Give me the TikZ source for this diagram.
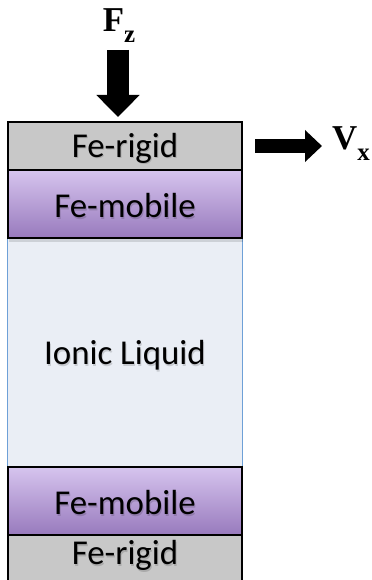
\documentclass[tikz,border=0pt]{standalone}
\usepackage{fontspec}
\setmainfont{Carlito}
\newfontfamily\tnr{Liberation Serif}
\usetikzlibrary{arrows.meta,calc}
\definecolor{rigid}{RGB}{200,200,200}
\definecolor{mobtop}{RGB}{214,196,238}
\definecolor{mobbot}{RGB}{152,122,189}
\definecolor{ionic}{RGB}{234,238,245}
\definecolor{ionicedge}{RGB}{110,160,215}
\tikzset{
  layer/.style={minimum width=234bp, inner sep=0pt, outer sep=0pt},
  rigidbox/.style={layer, draw=black, line width=1.4bp, fill=rigid, minimum height=48bp},
  mobilebox/.style={layer, draw=black, line width=1.6bp, top color=mobtop, bottom color=mobbot, minimum height=68bp},
  ionicbox/.style={layer, draw=ionicedge, line width=1bp, fill=ionic, minimum height=229bp},
  boxtext/.style={font=\fontsize{35}{40}\selectfont, inner sep=0pt},
  shadowtext/.style={boxtext, text=black, text opacity=0.15},
  forcetext/.style={font=\tnr\bfseries\fontsize{35}{40}\selectfont, inner sep=0pt},
  blockarrow/.style={line width=#1, draw=black}
}
\begin{document}
\begin{tikzpicture}[x=1bp,y=-1bp]
\useasboundingbox (0,0) rectangle (371,580);
\clip (0,0) rectangle (371,580);
% layers
\node[ionicbox] (il) at (125,352.5) {};
\fill[black, opacity=0.12] (9,239) rectangle (243,242);
\fill[black, opacity=0.12] (9,536) rectangle (243,539);
\node[mobilebox] (mt) at (125,204) {};
\node[mobilebox] (mb) at (125,501) {};
\node[rigidbox] (rt) at (125,146) {};
\node[rigidbox] (rb) at (125,559) {};
% text shadows
\node[shadowtext] (st1) at ($(rt.center)+(1,3.5)$) {Fe-rigid};
\node[shadowtext] (st2) at ($(mt.center)+(1,3.5)$) {Fe-mobile};
\node[shadowtext] (st3) at ($(il.center)+(1,4.5)$) {Ionic Liquid};
\node[shadowtext] (st4) at ($(mb.center)+(1,3.5)$) {Fe-mobile};
\node[shadowtext] (st5) at ($(rb.center)+(1,-2)$) {Fe-rigid};
% texts
\node[boxtext] (t1) at ($(rt.center)+(0,2)$) {Fe-rigid};
\node[boxtext] (t2) at ($(mt.center)+(0,2)$) {Fe-mobile};
\node[boxtext] (t3) at ($(il.center)+(0,3)$) {Ionic Liquid};
\node[boxtext] (t4) at ($(mb.center)+(0,2)$) {Fe-mobile};
\node[boxtext] (t5) at ($(rb.center)+(0,-3.5)$) {Fe-rigid};
% force Fz
\node[forcetext, anchor=base] (fz) at (119,32) {F\raisebox{-0.3em}{\fontsize{25}{28}\selectfont z}};
\coordinate (fzs) at (118,50);
\coordinate (fze) at (118,117);
\draw[blockarrow=22bp, -{Triangle[width=42bp,length=22bp]}] (fzs) -- (fze);
% velocity Vx
\coordinate (vxs) at (255,146);
\coordinate (vxe) at (322,146);
\draw[blockarrow=14bp, -{Triangle[width=31bp,length=17bp]}] (vxs) -- (vxe);
\node[forcetext, anchor=base west] (vx) at (332,150) {V\raisebox{-0.3em}{\fontsize{25}{28}\selectfont x}};
\end{tikzpicture}
\end{document}
